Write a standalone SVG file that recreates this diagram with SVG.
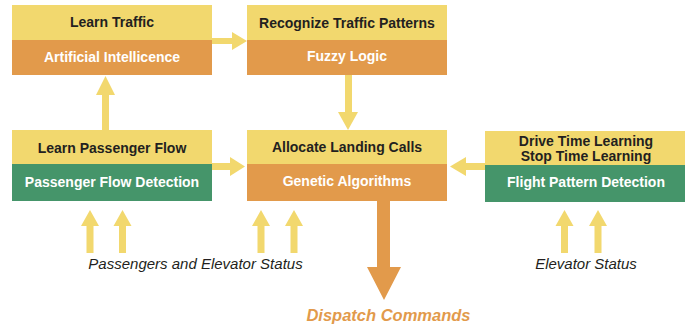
<svg xmlns="http://www.w3.org/2000/svg" width="692" height="329" viewBox="0 0 692 329">
  <style>
    .y { fill: #F2D86E; }
    .o { fill: #E29A4B; }
    .g { fill: #45956A; }
    .t { font-family: "Liberation Sans", Arial, sans-serif; font-size: 14px; font-weight: bold; text-anchor: middle; }
    .dk { fill: #231F20; }
    .wh { fill: #FFFFFF; }
    .lbl { font-family: "Liberation Sans", Arial, sans-serif; font-size: 15px; font-style: italic; fill: #231F20; text-anchor: middle; }
    .disp { font-family: "Liberation Sans", Arial, sans-serif; font-size: 16.5px; font-style: italic; font-weight: bold; fill: #E29A4B; text-anchor: middle; }
    .ya { fill: #F2D86E; }
    .oa { fill: #E29A4B; }
  </style>
  <rect width="692" height="329" fill="#FFFFFF"/>

  <g id="connectors">
    <path class="ya" d="M212,38 H232 V32 L247,41 L232,50 V44 H212 Z"/>
    <path class="ya" d="M102,130 V95 H96 L105.5,76 L115,95 H109 V130 Z"/>
    <path class="ya" d="M345,75 V112 H338 L348,130 L358,112 H352 V75 Z"/>
    <path class="ya" d="M212,163 H230 V157 L245,166.5 L230,176 V170 H212 Z"/>
    <path class="ya" d="M485,163 H466 V157 L450,166.5 L466,176 V170 H485 Z"/>
    <path class="ya" d="M86.5,253 V226 H81 L90,210 L99,226 H93.5 V253 Z"/>
    <path class="ya" d="M119,253 V226 H113.5 L122.5,210 L131.5,226 H126 V253 Z"/>
    <path class="ya" d="M257.5,253 V226 H252 L261,210 L270,226 H264.5 V253 Z"/>
    <path class="ya" d="M290.5,253 V226 H285 L294,210 L303,226 H297.5 V253 Z"/>
    <path class="ya" d="M561,253 V226 H555.5 L564.5,210 L573.5,226 H568 V253 Z"/>
    <path class="ya" d="M594.5,253 V226 H589 L598,210 L607,226 H601.5 V253 Z"/>
    <path class="oa" d="M377,200 V267 H367 L384,300 L401,267 H390 V200 Z"/>
  </g>

  <g id="learn-traffic">
    <rect class="y" x="12" y="5" width="200" height="35"/>
    <rect class="o" x="12" y="40" width="200" height="35"/>
    <text class="t dk" x="112" y="27">Learn Traffic</text>
    <text class="t wh" x="112" y="62">Artificial Intellicence</text>
  </g>

  <g id="recognize-patterns">
    <rect class="y" x="247" y="5" width="200" height="35"/>
    <rect class="o" x="247" y="40" width="200" height="35"/>
    <text class="t dk" x="347" y="28">Recognize Traffic Patterns</text>
    <text class="t wh" x="347" y="61">Fuzzy Logic</text>
  </g>

  <g id="learn-passenger-flow">
    <rect class="y" x="12" y="130" width="200" height="34"/>
    <rect class="g" x="12" y="164" width="200" height="37"/>
    <text class="t dk" x="112" y="153">Learn Passenger Flow</text>
    <text class="t wh" x="112" y="187">Passenger Flow Detection</text>
  </g>

  <g id="allocate-landing-calls">
    <rect class="y" x="247" y="130" width="200" height="34"/>
    <rect class="o" x="247" y="164" width="200" height="37"/>
    <text class="t dk" x="347" y="152">Allocate Landing Calls</text>
    <text class="t wh" x="347" y="186">Genetic Algorithms</text>
  </g>

  <g id="flight-pattern">
    <rect class="y" x="485" y="131" width="200" height="34"/>
    <rect class="g" x="485" y="165" width="200" height="37"/>
    <text class="t dk" x="586" y="146">Drive Time Learning</text>
    <text class="t dk" x="586" y="161">Stop Time Learning</text>
    <text class="t wh" x="586" y="187">Flight Pattern Detection</text>
  </g>

  <g id="input-passengers">
    <text class="lbl" x="195.5" y="269">Passengers and Elevator Status</text>
  </g>
  <g id="input-elevator">
    <text class="lbl" x="586" y="269">Elevator Status</text>
  </g>
  <g id="output-dispatch">
    <text class="disp" x="388.5" y="321">Dispatch Commands</text>
  </g>
</svg>
